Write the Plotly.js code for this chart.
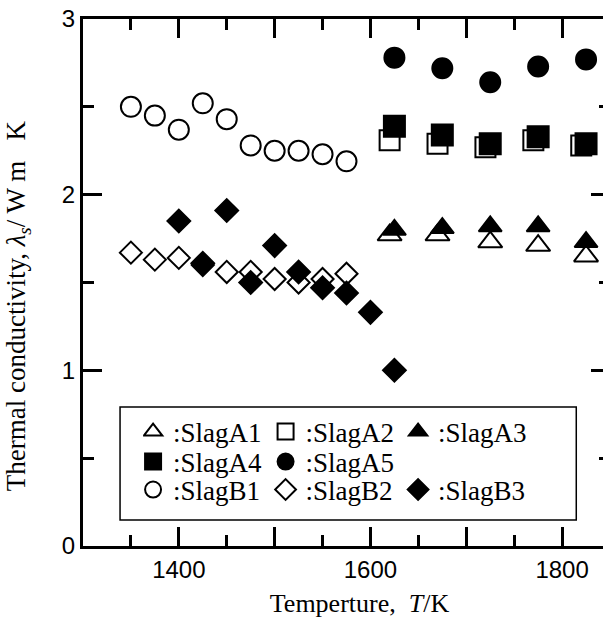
<!DOCTYPE html>
<html><head><meta charset="utf-8">
<script src="https://cdn.plot.ly/plotly-3.0.1.min.js"></script>
<style>html,body{margin:0;padding:0;overflow:hidden;background:#fff}</style>
</head><body><div id="chart" style="width:620px;height:621px"></div>
<script>
// ---- data ----
const tempA1 = [1620, 1670, 1725, 1775, 1825];
const slagA1 = [1.77, 1.77, 1.73, 1.71, 1.65];
const tempA2 = [1620, 1670, 1720, 1770, 1820];
const slagA2 = [2.31, 2.29, 2.27, 2.31, 2.28];
const tempA3 = [1625, 1675, 1725, 1775, 1825];
const slagA3 = [1.80, 1.81, 1.82, 1.82, 1.73];
const tempA4 = [1625, 1675, 1725, 1775, 1825];
const slagA4 = [2.39, 2.34, 2.29, 2.33, 2.29];
const tempA5 = [1625, 1675, 1725, 1775, 1825];
const slagA5 = [2.78, 2.72, 2.64, 2.73, 2.77];
const tempB1 = [1350, 1375, 1400, 1425, 1450, 1475, 1500, 1525, 1550, 1575];
const slagB1 = [2.50, 2.45, 2.37, 2.52, 2.43, 2.28, 2.25, 2.25, 2.23, 2.19];
const tempB2 = [1350, 1375, 1400, 1425, 1450, 1475, 1500, 1525, 1550, 1575];
const slagB2 = [1.67, 1.63, 1.64, 1.60, 1.56, 1.56, 1.52, 1.50, 1.52, 1.55];
const tempB3 = [1400, 1425, 1450, 1475, 1500, 1525, 1550, 1575, 1600, 1625];
const slagB3 = [1.85, 1.61, 1.91, 1.50, 1.71, 1.56, 1.47, 1.44, 1.33, 1.00];

const seriesNames = [':SlagA1', ':SlagA2', ':SlagA3', ':SlagA4', ':SlagA5', ':SlagB1', ':SlagB2', ':SlagB3'];
const xTickStart = 1400;   // first labelled tick
const xTickStep = 100;     // major tick spacing (labels on every 2nd)
const yTickStep = 1;

const serif = 'Liberation Serif, Times New Roman, serif';
const sans = 'Liberation Sans, Arial, sans-serif';
const nb = '\u00a0';
const zw = '\u200b';

function mk(x, y, name, symbol, size, legend) {
  return {
    type: 'scatter', mode: 'markers', x: x, y: y, name: name, legend: legend,
    marker: {symbol: symbol, size: size, color: '#000', line: {color: '#000', width: 2}},
    hoverinfo: 'skip'
  };
}

const data = [
  mk(tempA1, slagA1, seriesNames[0], 'triangle-up-open', 21, 'legend'),
  mk(tempA2, slagA2, seriesNames[1], 'square-open', 20, 'legend'),
  mk(tempA3, slagA3, seriesNames[2], 'triangle-up', 20, 'legend'),
  mk(tempA4, slagA4, seriesNames[3], 'square', 21, 'legend2'),
  mk(tempA5, slagA5, seriesNames[4], 'circle', 20, 'legend2'),
  mk(tempB1, slagB1, seriesNames[5], 'circle-open', 20, 'legend3'),
  mk(tempB2, slagB2, seriesNames[6], 'diamond-open', 17, 'legend3'),
  mk(tempB3, slagB3, seriesNames[7], 'diamond', 17.5, 'legend3')
];

const legendBase = {
  orientation: 'h', xanchor: 'left', yanchor: 'middle', x: 0.114,
  entrywidth: 97.5, itemwidth: 30, indentation: -10, bgcolor: 'rgba(0,0,0,0)', borderwidth: 0,
  font: {family: serif, size: 27, color: '#000'}
};

const layout = {
  width: 620, height: 621,
  margin: {l: 83, r: 10.4, t: 19, b: 75},
  paper_bgcolor: '#fff', plot_bgcolor: '#fff',
  showlegend: true,
  legend: Object.assign({}, legendBase, {y: 0.2163}),
  legend2: Object.assign({}, legendBase, {y: 0.1594}),
  legend3: Object.assign({}, legendBase, {y: 0.1063}),
  xaxis: {
    range: [1300, 1850], tickmode: 'linear', tick0: xTickStart, dtick: xTickStep, ticklabelstep: 2,
    ticks: 'inside', ticklen: 19, tickwidth: 3, tickcolor: '#000',
    minor: {tickmode: 'linear', tick0: 1300, dtick: xTickStep / 2, ticks: 'inside', ticklen: 11, tickwidth: 3, tickcolor: '#000'},
    showline: true, linewidth: 3, linecolor: '#000', mirror: 'allticks',
    showgrid: false, zeroline: false,
    tickfont: {family: sans, size: 24, color: '#000'},
    title: {text: zw + nb + nb + nb + nb + 'Temperture,' + nb + nb + '<i>T</i>/K', font: {family: serif, size: 26, color: '#000'}, standoff: 13}
  },
  yaxis: {
    range: [0, 3], tickmode: 'linear', tick0: 0, dtick: yTickStep,
    ticks: 'inside', ticklen: 19, tickwidth: 3, tickcolor: '#000',
    minor: {tickmode: 'linear', tick0: 0, dtick: yTickStep / 2, ticks: 'inside', ticklen: 11, tickwidth: 3, tickcolor: '#000'},
    showline: true, linewidth: 3, linecolor: '#000', mirror: 'allticks',
    showgrid: false, zeroline: false,
    tickfont: {family: sans, size: 24, color: '#000'},
    title: {text: 'Thermal conductivity, <i>\u03bb<sub>s</sub></i>/ W m' + nb + nb + nb + 'K' + nb.repeat(7) + zw, font: {family: serif, size: 27, color: '#000'}, standoff: 29}
  },
  shapes: [{
    type: 'rect', xref: 'paper', yref: 'paper',
    x0: 0.0703, x1: 0.936, y0: 0.0493, y1: 0.2638,
    line: {color: '#000', width: 1.5}, fillcolor: 'rgba(0,0,0,0)', layer: 'above'
  }]
};

Plotly.newPlot('chart', data, layout, {displayModeBar: false, staticPlot: true});
</script>
</body></html>
